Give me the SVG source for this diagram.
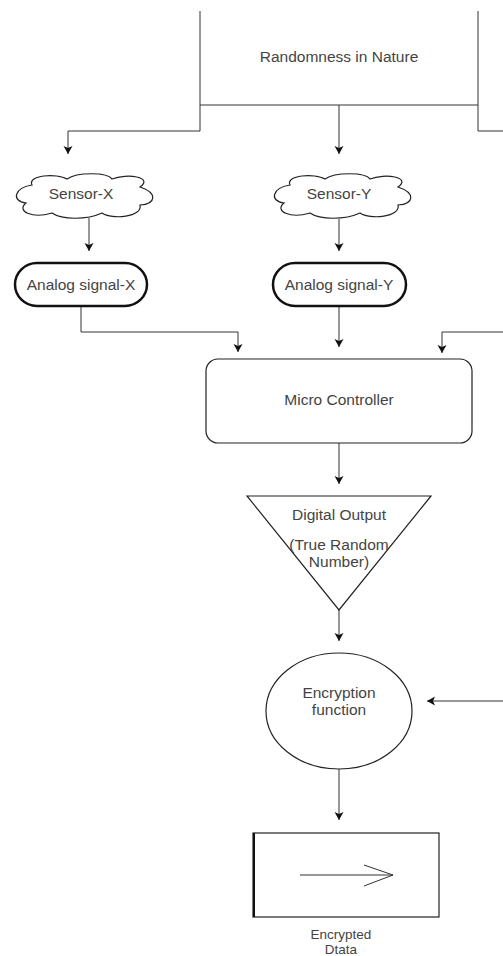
<svg xmlns="http://www.w3.org/2000/svg" width="503" height="956" viewBox="0 0 503 956">
<defs>
<marker id="ah" markerUnits="userSpaceOnUse" markerWidth="10" markerHeight="10" refX="8" refY="4.5" orient="auto">
<path d="M0,0 L8,4.5 L0,9 L2,4.5 Z" fill="#111"/>
</marker>
<path id="cloud" d="M20,12 C15,2 45,0 55,6 C65,-1 95,-1 100,6 C115,0 142,4 128,14 C146,20 144,31 128,32 C131,44 100,47 90,40 C75,47 50,47 40,40 C20,46 4,38 14,30 C-1,28 2,15 20,12 Z"/>
</defs>
<style>
.ln{fill:none;stroke:#333;stroke-width:1}
.sh{fill:#fff;stroke:#222;stroke-width:1.2}
.tx{font-family:"Liberation Sans",Arial,sans-serif;font-size:15.5px;fill:#444;text-anchor:middle}
.sm{font-size:13.5px}
</style>
<rect width="503" height="956" fill="#fff"/>
<g id="connectors">
<path class="ln" d="M200,11 V131 H68 V154" marker-end="url(#ah)"/>
<path class="ln" d="M478,11 V131 H503"/>
<path class="ln" d="M200,105 H478"/>
<path class="ln" d="M339,105 V154" marker-end="url(#ah)"/>
<path class="ln" d="M89,218 V251" marker-end="url(#ah)"/>
<path class="ln" d="M339,219 V251" marker-end="url(#ah)"/>
<path class="ln" d="M81,306 V332 H238 V352" marker-end="url(#ah)"/>
<path class="ln" d="M339,306 V347" marker-end="url(#ah)"/>
<path class="ln" d="M503,332 H442 V353" marker-end="url(#ah)"/>
<path class="ln" d="M339,443 V484" marker-end="url(#ah)"/>
<path class="ln" d="M339,610 V641" marker-end="url(#ah)"/>
<path class="ln" d="M503,701 H427" marker-end="url(#ah)"/>
<path class="ln" d="M339,769 V820" marker-end="url(#ah)"/>
</g>
<g id="randomness">
<text class="tx" x="339" y="62">Randomness in Nature</text>
</g>
<g id="sensor-x">
<use href="#cloud" class="sh" x="12" y="173"/>
<text class="tx" x="81" y="199">Sensor-X</text>
</g>
<g id="sensor-y">
<use href="#cloud" class="sh" x="270" y="173"/>
<text class="tx" x="339" y="199">Sensor-Y</text>
</g>
<g id="analog-x">
<rect x="15" y="263" width="132" height="43" rx="22" ry="21.5" fill="#fff" stroke="#111" stroke-width="2.5"/>
<text class="tx" x="81" y="290">Analog signal-X</text>
</g>
<g id="analog-y">
<rect x="273" y="263" width="133" height="43" rx="22" ry="21.5" fill="#fff" stroke="#111" stroke-width="2.5"/>
<text class="tx" x="339" y="290">Analog signal-Y</text>
</g>
<g id="micro-controller">
<rect class="sh" x="206" y="359" width="266" height="84" rx="12"/>
<text class="tx" x="339" y="405">Micro Controller</text>
</g>
<g id="digital-output">
<path class="sh" d="M247,496 H431 L339,610 Z"/>
<text class="tx" x="339" y="520">Digital Output</text>
<text class="tx" x="339" y="550">(True Random</text>
<text class="tx" x="339" y="567">Number)</text>
</g>
<g id="encryption">
<ellipse class="sh" cx="339" cy="711" rx="73" ry="58"/>
<text class="tx" x="339" y="698">Encryption</text>
<text class="tx" x="339" y="715">function</text>
</g>
<g id="encrypted-data">
<rect class="sh" x="253" y="833" width="186" height="84"/>
<path d="M254,833 V917" stroke="#111" stroke-width="2"/>
<path class="ln" d="M300,875 H393 M364,865 L393,875 L364,886"/>
<text class="tx sm" x="341" y="939">Encrypted</text>
<text class="tx sm" x="341" y="954">Dtata</text>
</g>
</svg>
